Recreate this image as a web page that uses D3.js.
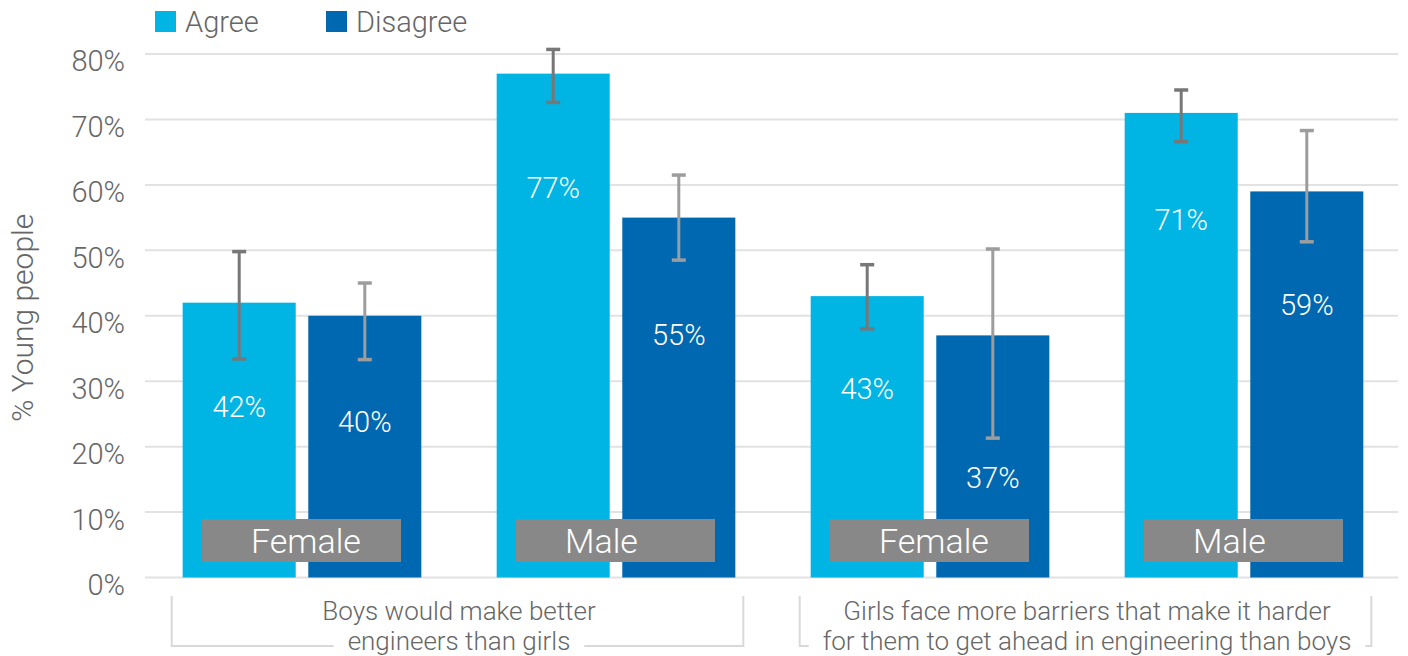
<!DOCTYPE html>
<html>
<head>
  <meta charset="utf-8" />
  <script src="https://d3js.org/d3.v7.min.js"></script>
  <style>
    body { margin: 0; background: #fff; }
    svg text { font-family: Roboto, "Open Sans", sans-serif; }
  </style>
</head>
<body>
  <svg id="chart" width="1408" height="656"></svg>
  <script>
    // data
    const statements = [
      ["Boys would make better", "engineers than girls"],
      ["Girls face more barriers that make it harder", "for them to get ahead in engineering than boys"]
    ];
    const genders = ["Female", "Male"];
    const series = ["Agree", "Disagree"];
    const agree = [42, 77, 43, 71];
    const disagree = [40, 55, 37, 59];
    const agreeErr = [[33.4, 49.8], [72.6, 80.7], [38.0, 47.8], [66.6, 74.5]];
    const disagreeErr = [[33.3, 45.0], [48.5, 61.5], [21.3, 50.2], [51.3, 68.3]];
    // where the value labels sit inside each bar (in % units)
    const agreeLabelAt = [26.1, 59.6, 28.8, 54.7];
    const disagreeLabelAt = [23.9, 37.2, 15.2, 41.7];
    const yTicks = [0, 10, 20, 30, 40, 50, 60, 70, 80];

    const colors = { Agree: "#00b4e3", Disagree: "#0068b1" };
    const errColors = { Agree: "#777777", Disagree: "#9d9d9d" };

    const svg = d3.select("#chart");
    const plotLeft = 145, plotRight = 1401, plotTop = 54, plotBottom = 577.5;

    const subgroups = d3.range(4);
    const x = d3.scaleBand().domain(subgroups).range([plotLeft, plotRight])
      .paddingInner(0.24).paddingOuter(0.12);
    const xs = d3.scaleBand().domain(series).range([0, x.bandwidth()]).paddingInner(0.1);
    const y = d3.scaleLinear().domain([0, 80]).range([plotBottom, plotTop]);

    // gridlines
    svg.append("g").selectAll("line")
      .data(yTicks)
      .join("line")
      .attr("x1", plotLeft).attr("x2", 1398)
      .attr("y1", d => y(d)).attr("y2", d => y(d))
      .attr("stroke", "#e2e2e2").attr("stroke-width", 2);

    // y tick labels
    svg.append("g").selectAll("text")
      .data(yTicks)
      .join("text")
      .attr("x", 125).attr("y", d => y(d) + 7)
      .attr("dy", "0.36em")
      .attr("text-anchor", "end")
      .attr("font-size", 29).attr("font-weight", 300)
      .attr("fill", "#666")
      .text(d => d + "%");

    svg.append("text")
      .attr("transform", "translate(33," + (y(40) + 2) + ") rotate(-90)")
      .attr("text-anchor", "middle")
      .attr("font-size", 30).attr("font-weight", 300)
      .attr("fill", "#666")
      .text("% Young people");

    const rows = subgroups.map(i => ({
      i: i,
      bars: [
        { s: "Agree", v: agree[i], err: agreeErr[i], lab: agreeLabelAt[i] },
        { s: "Disagree", v: disagree[i], err: disagreeErr[i], lab: disagreeLabelAt[i] }
      ]
    }));

    const groups = svg.append("g").selectAll("g")
      .data(rows)
      .join("g")
      .attr("transform", d => "translate(" + x(d.i) + ",0)");

    groups.selectAll("rect.bar")
      .data(d => d.bars)
      .join("rect")
      .attr("class", "bar")
      .attr("x", d => xs(d.s))
      .attr("y", d => y(d.v))
      .attr("width", xs.bandwidth())
      .attr("height", d => y(0) - y(d.v))
      .attr("fill", d => colors[d.s]);

    // error bars
    const eb = groups.selectAll("g.err")
      .data(d => d.bars)
      .join("g")
      .attr("class", "err")
      .attr("stroke", d => errColors[d.s]);
    eb.append("line")
      .attr("x1", d => xs(d.s) + xs.bandwidth() / 2)
      .attr("x2", d => xs(d.s) + xs.bandwidth() / 2)
      .attr("y1", d => y(d.err[0])).attr("y2", d => y(d.err[1]))
      .attr("stroke-width", 3);
    eb.selectAll("line.cap")
      .data(d => d.err.map(e => ({ s: d.s, e: e })))
      .join("line")
      .attr("class", "cap")
      .attr("x1", d => xs(d.s) + xs.bandwidth() / 2 - 7)
      .attr("x2", d => xs(d.s) + xs.bandwidth() / 2 + 7)
      .attr("y1", d => y(d.e)).attr("y2", d => y(d.e))
      .attr("stroke-width", 3.5);

    // value labels
    groups.selectAll("text.val")
      .data(d => d.bars)
      .join("text")
      .attr("class", "val")
      .attr("x", d => xs(d.s) + xs.bandwidth() / 2)
      .attr("y", d => y(d.lab))
      .attr("dy", "0.36em")
      .attr("text-anchor", "middle")
      .attr("font-size", 29).attr("font-weight", 300)
      .attr("fill", "#fff")
      .text(d => d.v + "%");

    // gender boxes (text sits left-aligned inside the box)
    const boxX = x.bandwidth() / 2 - 100;
    groups.append("rect")
      .attr("x", boxX)
      .attr("y", 519)
      .attr("width", 199).attr("height", 43)
      .attr("fill", "#888888");
    groups.append("text")
      .attr("x", boxX + 49)
      .attr("y", 541)
      .attr("dy", "0.36em")
      .attr("font-size", 34).attr("font-weight", 300)
      .attr("fill", "#fff")
      .text(d => genders[d.i % 2]);

    // statement brackets
    const br = svg.append("g").selectAll("g")
      .data(statements)
      .join("g");
    br.append("path")
      .attr("d", (d, k) => {
        const x0 = x(k * 2) - 11, x1 = x(k * 2 + 1) + x.bandwidth() + 8;
        return "M" + x0 + ",596V646H" + x1 + "V596";
      })
      .attr("fill", "none")
      .attr("stroke", "#d9d9d9").attr("stroke-width", 2);
    br.each(function (d, k) {
      const g = d3.select(this);
      const cx = (x(k * 2) + x(k * 2 + 1) + x.bandwidth()) / 2;
      const gap = g.append("rect").attr("fill", "#fff");
      const label = g.append("text")
        .attr("text-anchor", "middle")
        .attr("font-size", 26).attr("font-weight", 300)
        .attr("fill", "#666");
      const spans = label.selectAll("tspan")
        .data(d)
        .join("tspan")
        .attr("x", cx)
        .attr("y", (t, j) => 620 + j * 30)
        .text(t => t);
      // break the bracket's bottom line behind the last text line
      const w = spans.nodes()[d.length - 1].getComputedTextLength();
      gap.attr("x", cx - w / 2 - 14).attr("width", w + 28)
        .attr("y", 640).attr("height", 12);
    });

    // legend
    const lg = svg.append("g").selectAll("g")
      .data(series)
      .join("g")
      .attr("transform", (d, i) => "translate(" + (155 + i * 171) + ",11)");
    lg.append("rect")
      .attr("width", 21).attr("height", 21)
      .attr("fill", d => colors[d]);
    lg.append("text")
      .attr("x", 30).attr("y", 11)
      .attr("dy", "0.36em")
      .attr("font-size", 29).attr("font-weight", 300)
      .attr("fill", "#666")
      .text(d => d);
  </script>
</body>
</html>
